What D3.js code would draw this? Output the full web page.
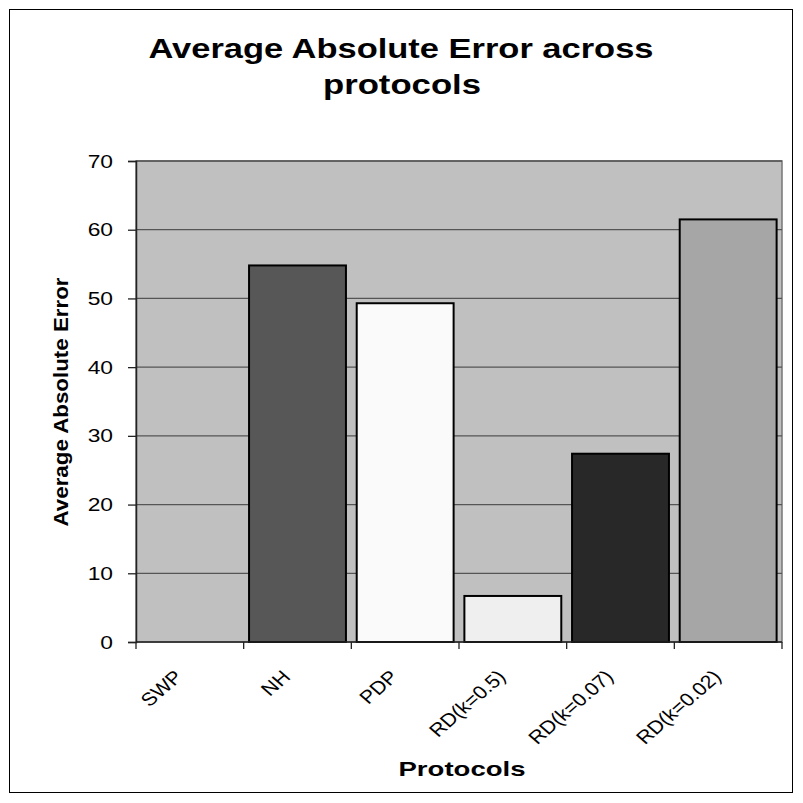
<!DOCTYPE html>
<html>
<head>
<meta charset="utf-8">
<script src="https://d3js.org/d3.v7.min.js"></script>
<style>
  body { margin: 0; background: #fff; }
  svg { display: block; font-family: "Liberation Sans", Arial, sans-serif; }
</style>
</head>
<body>
<div id="chart"></div>
<script>
// data
const protocols = ["SWP", "NH", "PDP", "RD(k=0.5)", "RD(k=0.07)", "RD(k=0.02)"];
const errors = [0, 54.8, 49.3, 6.7, 27.4, 61.5];
const barColors = ["#c0c0c0", "#575757", "#fafafa", "#efefef", "#282828", "#a6a6a6"];
const yTicks = [0, 10, 20, 30, 40, 50, 60, 70];

const w = 803, h = 803;
const plotL = 136, plotR = 782, plotT = 161, plotB = 642;
const wide = 1.15; // the original picture is stretched sideways

// widen text a bit, the original font renders wider than Liberation
function stretch(sel, f) {
  sel.each(function() {
    const len = this.getComputedTextLength();
    d3.select(this).attr("textLength", len * f).attr("lengthAdjust", "spacingAndGlyphs");
  });
}

const svg = d3.select("#chart").append("svg")
  .attr("width", w)
  .attr("height", h);

// outer frame
svg.append("rect")
  .attr("x", 9.5).attr("y", 9.5)
  .attr("width", 783).attr("height", 783)
  .attr("fill", "#fff")
  .attr("stroke", "#000")
  .attr("stroke-width", 1);

// scales
const x = d3.scaleBand()
  .domain(protocols)
  .range([plotL, plotR])
  .paddingInner(0.1)
  .paddingOuter(0.05);

const y = d3.scaleLinear()
  .domain([0, 70])
  .range([plotB, plotT]);

// plot area
svg.append("rect")
  .attr("x", plotL).attr("y", plotT)
  .attr("width", plotR - plotL).attr("height", plotB - plotT)
  .attr("fill", "#c0c0c0")
  .attr("stroke", "#777")
  .attr("stroke-width", 1.5);

// gridlines
svg.append("g")
  .selectAll("line")
  .data(yTicks.slice(1))
  .enter()
  .append("line")
  .attr("x1", plotL).attr("x2", plotR)
  .attr("y1", d => y(d)).attr("y2", d => y(d))
  .attr("stroke", "#555")
  .attr("stroke-width", 1.3);

// bars
svg.append("g")
  .selectAll("rect")
  .data(protocols)
  .enter()
  .append("rect")
  .attr("x", d => x(d))
  .attr("y", (d, i) => y(errors[i]))
  .attr("width", x.bandwidth())
  .attr("height", (d, i) => plotB - y(errors[i]))
  .attr("fill", (d, i) => barColors[i])
  .attr("stroke", (d, i) => errors[i] > 0 ? "#000" : "none")
  .attr("stroke-width", 2);

// y axis
const yAxis = d3.axisLeft(y).tickValues(yTicks).tickSize(8).tickPadding(15);
const gy = svg.append("g")
  .attr("transform", "translate(" + plotL + ",0)")
  .call(yAxis);
gy.select(".domain").attr("stroke", "#222").attr("stroke-width", 1.5);
gy.selectAll(".tick line").attr("stroke", "#222").attr("stroke-width", 1.3);
gy.selectAll("text")
  .style("font-size", "19px")
  .attr("fill", "#000");
stretch(gy.selectAll("text"), 1.2);

// x axis (ticks at band edges)
const edges = protocols.map(p => x(p) - x.step() * x.paddingInner() / 2);
edges.push(plotR);
svg.append("g")
  .selectAll("line")
  .data(edges)
  .enter()
  .append("line")
  .attr("x1", d => d).attr("x2", d => d)
  .attr("y1", plotB).attr("y2", plotB + 7)
  .attr("stroke", "#222")
  .attr("stroke-width", 1.3);
svg.append("line")
  .attr("x1", plotL).attr("x2", plotR)
  .attr("y1", plotB).attr("y2", plotB)
  .attr("stroke", "#222")
  .attr("stroke-width", 1.5);

svg.append("g")
  .selectAll("text")
  .data(protocols)
  .enter()
  .append("text")
  .attr("transform", d => "translate(" + (x(d) + x.bandwidth() / 2 - 6) + "," + (plotB + 36) + ") scale(" + wide + ",1) rotate(-45)")
  .attr("text-anchor", "end")
  .style("font-size", "18.5px")
  .text(d => d);

// title
const title = svg.append("text")
  .attr("text-anchor", "middle")
  .style("font-size", "28px")
  .style("font-weight", "bold");
title.append("tspan").attr("x", 401).attr("y", 58)
  .attr("textLength", 505).attr("lengthAdjust", "spacingAndGlyphs")
  .text("Average Absolute Error across");
title.append("tspan").attr("x", 402).attr("y", 94)
  .attr("textLength", 158).attr("lengthAdjust", "spacingAndGlyphs")
  .text("protocols");

// axis titles
svg.append("text")
  .attr("x", 462).attr("y", 776)
  .attr("text-anchor", "middle")
  .attr("textLength", 127).attr("lengthAdjust", "spacingAndGlyphs")
  .style("font-size", "21px")
  .style("font-weight", "bold")
  .text("Protocols");

svg.append("text")
  .attr("transform", "translate(68,402) rotate(-90)")
  .attr("text-anchor", "middle")
  .attr("textLength", 249).attr("lengthAdjust", "spacingAndGlyphs")
  .style("font-size", "21px")
  .style("font-weight", "bold")
  .text("Average Absolute Error");
</script>
</body>
</html>
